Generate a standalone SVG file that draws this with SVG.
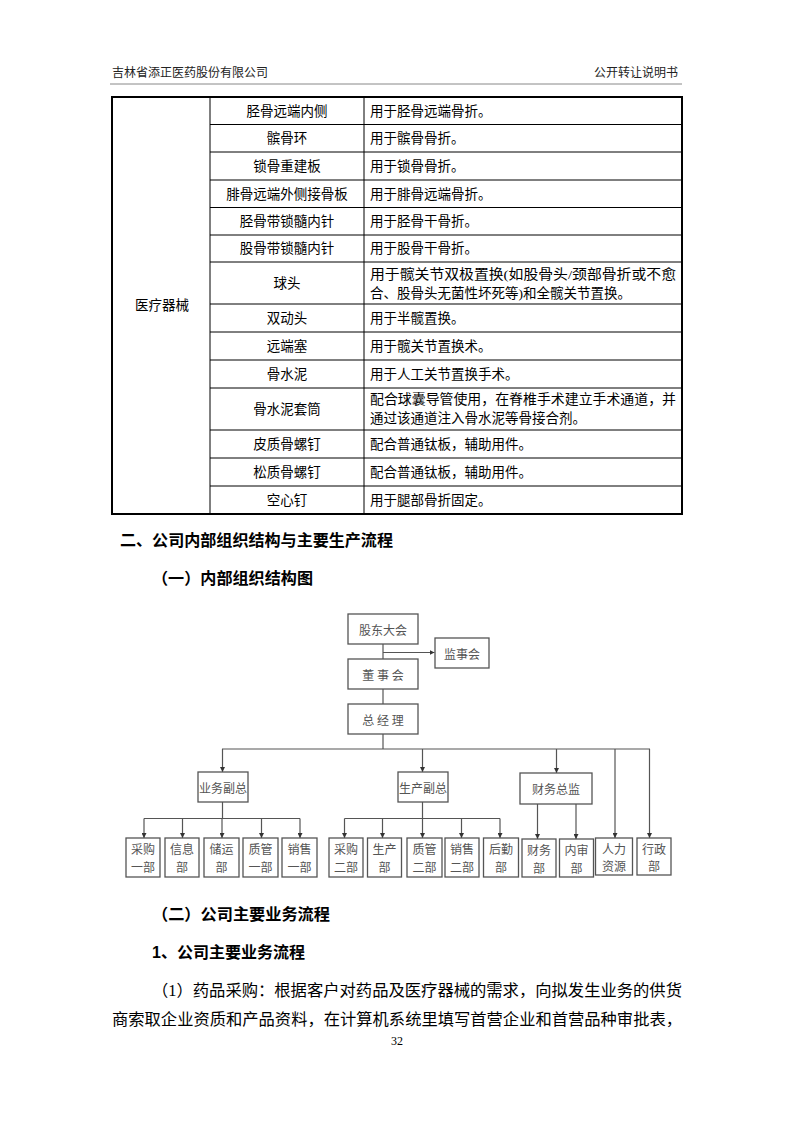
<svg xmlns="http://www.w3.org/2000/svg" width="793" height="1122" viewBox="0 0 793 1122">
<style>
text{font-family:"Liberation Serif","Noto Sans CJK SC",serif;fill:#000}
.hd{font-size:12px;fill:#222}
.tb{font-size:13.5px;dominant-baseline:central}
.c{text-anchor:middle}
.h1{font-family:"Liberation Sans","Noto Sans CJK SC",sans-serif;font-weight:bold;font-size:16px;dominant-baseline:central}
.p{font-size:16px;dominant-baseline:central}
.ln{stroke:#000;stroke-width:1;fill:none}
.bx{fill:#fff;stroke:#555;stroke-width:1.3}
.ct{font-family:"Noto Sans CJK SC",sans-serif;fill:#555;font-size:12px;text-anchor:middle;dominant-baseline:central}
.cn{stroke:#555;stroke-width:1.2;fill:none}
.ca{stroke:#555;stroke-width:1.2;fill:none;marker-end:url(#ar)}
</style>
<defs>
<marker id="ar" viewBox="0 0 6 6" refX="6" refY="3" markerWidth="5" markerHeight="5" markerUnits="userSpaceOnUse" orient="auto">
<path d="M0,0 L6,3 L0,6 Z" fill="#333"/>
</marker>
</defs>
<rect width="793" height="1122" fill="#fff"/>

<!-- header -->
<g id="header">
<text class="hd" x="112" y="77">吉林省添正医药股份有限公司</text>
<text class="hd" x="678" y="77" text-anchor="end">公开转让说明书</text>
<line x1="110" y1="84" x2="682" y2="84" stroke="#888" stroke-width="1"/>
</g>

<!-- table -->
<g id="table">
<g class="ln">
<line x1="210" y1="97" x2="210" y2="514"/>
<line x1="364" y1="97" x2="364" y2="514"/>
<line x1="210" y1="124.5" x2="682" y2="124.5"/>
<line x1="210" y1="152" x2="682" y2="152"/>
<line x1="210" y1="180" x2="682" y2="180"/>
<line x1="210" y1="207.5" x2="682" y2="207.5"/>
<line x1="210" y1="235" x2="682" y2="235"/>
<line x1="210" y1="262" x2="682" y2="262"/>
<line x1="210" y1="304" x2="682" y2="304"/>
<line x1="210" y1="332" x2="682" y2="332"/>
<line x1="210" y1="360" x2="682" y2="360"/>
<line x1="210" y1="388" x2="682" y2="388"/>
<line x1="210" y1="430" x2="682" y2="430"/>
<line x1="210" y1="458" x2="682" y2="458"/>
<line x1="210" y1="486" x2="682" y2="486"/>
</g>
<rect x="112" y="97" width="570" height="417" fill="none" stroke="#000" stroke-width="2"/>
<text class="tb c" x="162" y="305">医疗器械</text>
<text class="tb c" x="287" y="111">胫骨远端内侧</text>
<text class="tb c" x="287" y="138">髌骨环</text>
<text class="tb c" x="287" y="166">锁骨重建板</text>
<text class="tb c" x="287" y="194">腓骨远端外侧接骨板</text>
<text class="tb c" x="287" y="221">胫骨带锁髓内针</text>
<text class="tb c" x="287" y="248.5">股骨带锁髓内针</text>
<text class="tb c" x="287" y="283">球头</text>
<text class="tb c" x="287" y="318">双动头</text>
<text class="tb c" x="287" y="346">远端塞</text>
<text class="tb c" x="287" y="374">骨水泥</text>
<text class="tb c" x="287" y="409">骨水泥套筒</text>
<text class="tb c" x="287" y="444">皮质骨螺钉</text>
<text class="tb c" x="287" y="472">松质骨螺钉</text>
<text class="tb c" x="287" y="500">空心钉</text>
<text class="tb" x="370" y="111">用于胫骨远端骨折。</text>
<text class="tb" x="370" y="138">用于髌骨骨折。</text>
<text class="tb" x="370" y="166">用于锁骨骨折。</text>
<text class="tb" x="370" y="194">用于腓骨远端骨折。</text>
<text class="tb" x="370" y="221">用于胫骨干骨折。</text>
<text class="tb" x="370" y="248.5">用于股骨干骨折。</text>
<text class="tb" x="370" y="274" textLength="306" lengthAdjust="spacingAndGlyphs">用于髋关节双极置换(如股骨头/颈部骨折或不愈</text>
<text class="tb" x="370" y="293">合、股骨头无菌性坏死等)和全髋关节置换。</text>
<text class="tb" x="370" y="318">用于半髋置换。</text>
<text class="tb" x="370" y="346">用于髋关节置换术。</text>
<text class="tb" x="370" y="374">用于人工关节置换手术。</text>
<text class="tb" x="370" y="399" textLength="306" lengthAdjust="spacingAndGlyphs">配合球囊导管使用，在脊椎手术建立手术通道，并</text>
<text class="tb" x="370" y="418">通过该通道注入骨水泥等骨接合剂。</text>
<text class="tb" x="370" y="444">配合普通钛板，辅助用件。</text>
<text class="tb" x="370" y="472">配合普通钛板，辅助用件。</text>
<text class="tb" x="370" y="500">用于腿部骨折固定。</text>
</g>

<!-- headings -->
<g id="headings">
<text class="h1" x="120" y="540" textLength="273" lengthAdjust="spacingAndGlyphs">二、公司内部组织结构与主要生产流程</text>
<text class="h1" x="152" y="578" textLength="161" lengthAdjust="spacingAndGlyphs">（一）内部组织结构图</text>
</g>

<!-- connectors -->
<g id="connectors">
<line class="cn" x1="383" y1="644" x2="383" y2="659"/>
<line class="ca" x1="383" y1="652.5" x2="434.5" y2="652.5"/>
<line class="cn" x1="383" y1="689" x2="383" y2="704"/>
<line class="cn" x1="383" y1="734" x2="383" y2="749"/>
<line class="cn" x1="222" y1="749" x2="650" y2="749"/>
<line class="ca" x1="222.5" y1="749" x2="222.5" y2="772"/>
<line class="ca" x1="422.5" y1="749" x2="422.5" y2="772"/>
<line class="ca" x1="556.5" y1="749" x2="556.5" y2="773"/>
<line class="ca" x1="615" y1="749" x2="615" y2="838"/>
<line class="ca" x1="649.5" y1="749" x2="649.5" y2="838"/>
<line class="cn" x1="222.5" y1="802" x2="222.5" y2="818.5"/>
<line class="cn" x1="144" y1="818.5" x2="300" y2="818.5"/>
<line class="ca" x1="144" y1="818.5" x2="144" y2="838"/>
<line class="ca" x1="182.5" y1="818.5" x2="182.5" y2="838"/>
<line class="ca" x1="222" y1="818.5" x2="222" y2="838"/>
<line class="ca" x1="261.5" y1="818.5" x2="261.5" y2="838"/>
<line class="ca" x1="300" y1="818.5" x2="300" y2="838"/>
<line class="cn" x1="422.5" y1="802" x2="422.5" y2="818.5"/>
<line class="cn" x1="344.5" y1="818.5" x2="500" y2="818.5"/>
<line class="ca" x1="344.5" y1="818.5" x2="344.5" y2="838"/>
<line class="ca" x1="382.5" y1="818.5" x2="382.5" y2="838"/>
<line class="ca" x1="422.5" y1="818.5" x2="422.5" y2="838"/>
<line class="ca" x1="461.5" y1="818.5" x2="461.5" y2="838"/>
<line class="ca" x1="500" y1="818.5" x2="500" y2="838"/>
<line class="ca" x1="537.5" y1="804" x2="537.5" y2="839"/>
<line class="ca" x1="576" y1="804" x2="576" y2="839"/>
</g>

<!-- nodes -->
<g id="n-gudong"><rect class="bx" x="348" y="614" width="70" height="30"/><text class="ct" x="383" y="629" font-size="13">股东大会</text></g>
<g id="n-jianshi"><rect class="bx" x="435" y="638" width="54" height="30"/><text class="ct" x="462" y="653" font-size="13">监事会</text></g>
<g id="n-dongshi"><rect class="bx" x="348" y="659" width="70" height="30"/><text class="ct" x="383" y="674" font-size="13">董 事 会</text></g>
<g id="n-zongjingli"><rect class="bx" x="348" y="704" width="70" height="30"/><text class="ct" x="383" y="719" font-size="13">总 经 理</text></g>
<g id="n-yewu"><rect class="bx" x="198" y="772" width="50" height="30"/><text class="ct" x="223" y="787">业务副总</text></g>
<g id="n-shengchan"><rect class="bx" x="398" y="772" width="50" height="30"/><text class="ct" x="423" y="787">生产副总</text></g>
<g id="n-caiwuzongjian"><rect class="bx" x="520" y="773" width="72" height="31"/><text class="ct" x="556" y="788.5">财务总监</text></g>

<g id="n-caigou1"><rect class="bx" x="126" y="838" width="34" height="39"/><text class="ct" x="143" y="848">采购</text><text class="ct" x="143" y="866">一部</text></g>
<g id="n-xinxi"><rect class="bx" x="165" y="838" width="34" height="39"/><text class="ct" x="182" y="848">信息</text><text class="ct" x="182" y="866">部</text></g>
<g id="n-chuyun"><rect class="bx" x="204" y="838" width="35" height="39"/><text class="ct" x="221.5" y="848">储运</text><text class="ct" x="221.5" y="866">部</text></g>
<g id="n-zhiguan1"><rect class="bx" x="243" y="838" width="35" height="39"/><text class="ct" x="260.5" y="848">质管</text><text class="ct" x="260.5" y="866">一部</text></g>
<g id="n-xiaoshou1"><rect class="bx" x="282" y="838" width="35" height="39"/><text class="ct" x="299.5" y="848">销售</text><text class="ct" x="299.5" y="866">一部</text></g>
<g id="n-caigou2"><rect class="bx" x="329" y="838" width="34" height="39"/><text class="ct" x="346" y="848">采购</text><text class="ct" x="346" y="866">二部</text></g>
<g id="n-shengchanbu"><rect class="bx" x="367.5" y="838" width="34" height="39"/><text class="ct" x="384.5" y="848">生产</text><text class="ct" x="384.5" y="866">部</text></g>
<g id="n-zhiguan2"><rect class="bx" x="407" y="838" width="35" height="39"/><text class="ct" x="424.5" y="848">质管</text><text class="ct" x="424.5" y="866">二部</text></g>
<g id="n-xiaoshou2"><rect class="bx" x="445" y="838" width="34" height="39"/><text class="ct" x="462" y="848">销售</text><text class="ct" x="462" y="866">二部</text></g>
<g id="n-houqin"><rect class="bx" x="483.5" y="838" width="35" height="39"/><text class="ct" x="501" y="848">后勤</text><text class="ct" x="501" y="866">部</text></g>
<g id="n-caiwubu"><rect class="bx" x="522" y="839" width="34" height="38"/><text class="ct" x="539" y="849">财务</text><text class="ct" x="539" y="867">部</text></g>
<g id="n-neishen"><rect class="bx" x="559.5" y="839" width="34" height="38"/><text class="ct" x="576.5" y="849">内审</text><text class="ct" x="576.5" y="867">部</text></g>
<g id="n-renli"><rect class="bx" x="595.5" y="838" width="37" height="37"/><text class="ct" x="614" y="848" font-size="13">人力</text><text class="ct" x="614" y="865" font-size="13">资源</text></g>
<g id="n-xingzheng"><rect class="bx" x="637" y="838" width="34" height="37"/><text class="ct" x="654" y="848" font-size="13">行政</text><text class="ct" x="654" y="865">部</text></g>

<!-- body text -->
<g id="body">
<text class="h1" x="152" y="914" textLength="178" lengthAdjust="spacingAndGlyphs">（二）公司主要业务流程</text>
<text class="h1" x="152" y="952" textLength="153" lengthAdjust="spacingAndGlyphs">1、公司主要业务流程</text>
<text class="p" x="152" y="990" textLength="530" lengthAdjust="spacingAndGlyphs">（1）药品采购：根据客户对药品及医疗器械的需求，向拟发生业务的供货</text>
<text class="p" x="112" y="1019" textLength="570" lengthAdjust="spacingAndGlyphs">商索取企业资质和产品资料，在计算机系统里填写首营企业和首营品种审批表，</text>
<text x="397" y="1045" font-size="12" text-anchor="middle">32</text>
</g>
</svg>
